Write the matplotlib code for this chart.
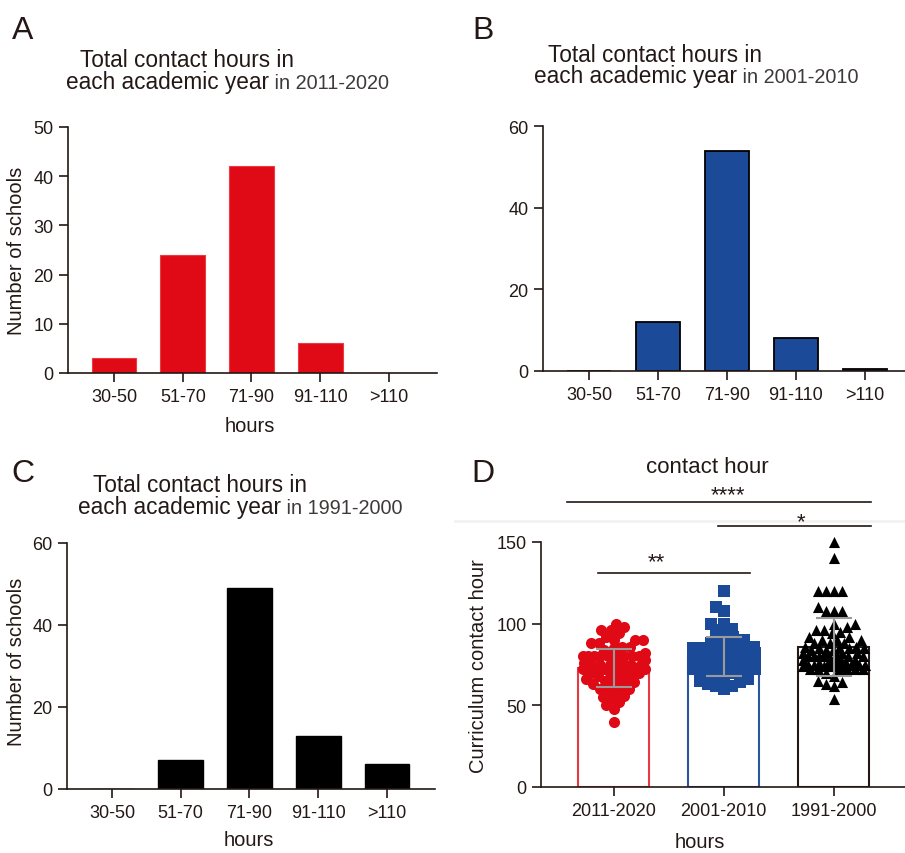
import matplotlib
matplotlib.use("Agg")
import matplotlib.pyplot as plt
from matplotlib.lines import Line2D
import numpy as np

plt.rcParams['font.family'] = ['Liberation Sans', 'DejaVu Sans']

# ---------------- data ----------------
categories = ["30-50", "51-70", "71-90", "91-110", ">110"]
counts_2011_2020 = [3, 24, 42, 6, 0]
counts_2001_2010 = [0, 12, 54, 8, 0.6]
counts_1991_2000 = [0, 7, 49, 13, 6]

groups = ["2011-2020", "2001-2010", "1991-2000"]
hours_2011_2020 = [40, 48, 50,
                   52, 54, 55, 56, 58, 60, 60, 60, 62, 63, 64, 64, 65, 66, 66, 68, 68, 70, 70, 70, 70,
                   72, 72, 72, 72, 72, 72, 72, 72, 72, 72, 72, 72, 74, 74, 75, 75, 75, 75, 76, 76,
                   78, 78, 80, 80, 80, 80, 80, 80, 80, 80, 80, 80, 82, 84, 85, 86, 86, 88, 88, 90, 90, 90,
                   92, 94, 96, 96, 98, 100]
hours_2001_2010 = [60, 62, 62, 63, 64, 65, 65, 66, 68, 70, 70, 70,
                   72, 72, 72, 72, 72, 72, 72, 72, 74, 74, 74, 75, 75, 75, 75, 75, 75, 75, 75,
                   76, 76, 76, 76, 78, 78, 78, 78, 78, 80, 80, 80, 80, 80, 80, 80, 80, 80, 80,
                   82, 82, 82, 84, 84, 84, 85, 85, 85, 85, 86, 86, 88, 88, 90, 90,
                   92, 95, 96, 97, 100, 100, 108, 110,
                   120]
hours_1991_2000 = [54, 62, 63, 64, 65, 68, 70,
                   72, 72, 72, 72, 72, 72, 74, 74, 74, 74, 75, 75, 75, 75, 75, 75, 76, 76, 76,
                   78, 78, 78, 78, 80, 80, 80, 80, 80, 80, 80, 80, 82, 82, 82, 84, 84, 84,
                   85, 85, 85, 85, 86, 86, 88, 88, 88, 90, 90, 90,
                   92, 92, 94, 95, 96, 96, 98, 100, 100, 108, 108, 108, 110,
                   120, 120, 120, 120, 140, 150]
group_means = [73.0, 80.0, 85.8]
group_sds = [11.7, 11.8, 17.7]

# ---------------- style ----------------
W, H = 905, 854
INK = '#231815'
RED = '#e00a16'
BLUE = '#1b4b98'
BLACK = '#000000'

fig = plt.figure(figsize=(W / 100, H / 100), dpi=100)


def px_axes(l, t, r, b):
    return fig.add_axes([l / W, 1 - b / H, (r - l) / W, (b - t) / H])


def style(ax):
    for s in ('top', 'right'):
        ax.spines[s].set_visible(False)
    for s in ('left', 'bottom'):
        ax.spines[s].set_color(INK)
        ax.spines[s].set_linewidth(1.2)
    ax.tick_params(direction='out', length=6.5, width=1.2, color=INK,
                   labelsize=13, labelcolor=INK, pad=4)


def ftext(x, y, s, **kw):
    kw.setdefault('color', INK)
    return fig.text(x / W, 1 - y / H, s, **kw)


def hist_panel(ax, counts, face, edge, elw, ylim, yticks, xlim):
    x = np.arange(len(categories))
    ax.bar(x, counts, width=0.65, color=face, edgecolor=edge, linewidth=elw, zorder=2)
    ax.set_xticks(x)
    ax.set_xticklabels(categories)
    ax.set_yticks(yticks)
    ax.set_ylim(*ylim)
    ax.set_xlim(*xlim)
    style(ax)


axA = px_axes(68, 128, 437, 374)
hist_panel(axA, counts_2011_2020, RED, '#ec3a42', 0.8, (0, 50), [0, 10, 20, 30, 40, 50], (-0.67, 4.7))
axB = px_axes(543, 127, 905, 372)
hist_panel(axB, counts_2001_2010, BLUE, BLACK, 1.3, (0, 60), [0, 20, 40, 60], (-0.667, 4.58))
axC = px_axes(67, 544, 435, 790)
hist_panel(axC, counts_1991_2000, BLACK, BLACK, 1.0, (0, 60), [0, 20, 40, 60], (-0.655, 4.70))

# ---------------- panel D ----------------
axD = px_axes(541, 543, 905, 788)
style(axD)
xD = np.arange(len(groups))
cols = [RED, BLUE, BLACK]
edgecols = ['#e53a3f', '#2a56a0', INK]
axD.bar(xD, group_means, width=0.645, facecolor='white', edgecolor=edgecols, linewidth=1.5, zorder=1)


def swarm(values, px_x, px_y, dmin, half_width):
    """Compact beeswarm layout (pixel space), limited to +/- half_width px."""
    vals = np.asarray(values, float)
    order = np.argsort(vals, kind='stable')
    cand = np.arange(-half_width, half_width + 1, 1.0)
    cand = cand[np.argsort(np.abs(cand), kind='stable')]
    px, py = [], []
    offs = np.zeros(len(vals))
    for i in order:
        y = vals[i] * px_y
        if px:
            ax_ = np.array(px)
            ay_ = np.array(py)
            d = np.sqrt((cand[:, None] - ax_[None, :]) ** 2 + (y - ay_[None, :]) ** 2).min(axis=1)
            ok = np.where(d >= dmin)[0]
            best = cand[ok[0]] if len(ok) else cand[np.argmax(d)]
        else:
            best = 0.0
        px.append(best)
        py.append(y)
        offs[i] = best / px_x
    return offs


px_x = 110.0
px_y = 245.0 / 150.0
markers = ['o', 's', '^']
for gi, (vals, c, m) in enumerate(zip([hours_2011_2020, hours_2001_2010, hours_1991_2000], cols, markers)):
    offs = swarm(vals, px_x, px_y, 8.0, 31)
    axD.scatter(gi + offs, vals, s=64, marker=m, color=c, linewidths=0, zorder=3, clip_on=False)

axD.errorbar(xD, group_means, yerr=group_sds, fmt='none', ecolor='#9a9a9a',
             elinewidth=1.5, capsize=13, capthick=1.5, zorder=4)
axD.set_xticks(xD)
axD.set_xticklabels(groups)
axD.set_yticks([0, 50, 100, 150])
axD.set_ylim(0, 150)
axD.set_xlim(-0.66, 2.65)


def yv(ypx):
    return (788 - ypx) * 150.0 / 245.0


sig = [(-0.42, 2.345, 503, 1.036, 501, '****'),
       (0.945, 2.345, 527, 1.70, 528, '*'),
       (-0.145, 1.236, 574, 0.39, 568, '**')]
for x0, x1, ly, tx, ty, s in sig:
    axD.plot([x0, x1], [yv(ly), yv(ly)], color=INK, lw=1.2, clip_on=False, zorder=5)
    axD.text(tx, yv(ty), s, ha='center', va='baseline', fontsize=16, color=INK, clip_on=False)

fig.add_artist(Line2D([455 / W, 1], [1 - 522 / H] * 2, transform=fig.transFigure,
                      color='#f2f2f2', lw=2, zorder=0))

# ---------------- titles / labels ----------------
renderer = fig.canvas.get_renderer()


def two_line_title(x1, y1, x2, y2, years):
    ftext(x1, y1, "Total contact hours in", fontsize=16.3, va='baseline', ha='left')
    t = ftext(x2, y2, "each academic year", fontsize=16.3, va='baseline', ha='left')
    bb = t.get_window_extent(renderer)
    fig.text(bb.x1 / W, 1 - y2 / H, " in " + years, fontsize=14.3, va='baseline', ha='left',
             color='#3e3a39')


two_line_title(80, 67, 66, 89, "2011-2020")
two_line_title(548, 62, 534, 83, "2001-2010")
two_line_title(93, 492, 78, 514, "1991-2000")

for letter, x, y in [("A", 12, 39), ("B", 472, 39), ("C", 11, 482), ("D", 471, 482)]:
    ftext(x, y, letter, fontsize=23, va='baseline', ha='left')

ftext(16, 251, "Number of schools", fontsize=14.5, rotation=90, ha='center', va='center')
ftext(16, 662, "Number of schools", fontsize=14.5, rotation=90, ha='center', va='center')
ftext(479, 666, "Curriculum contact hour", fontsize=14.5, rotation=90, ha='center', va='center')
ftext(250, 427, "hours", fontsize=14.5, ha='center', va='center')
ftext(249, 841, "hours", fontsize=14.5, ha='center', va='center')
ftext(700, 843, "hours", fontsize=14.5, ha='center', va='center')
ftext(707, 473, "contact hour", fontsize=16, ha='center', va='baseline')

fig.savefig("out.png", dpi=100)
